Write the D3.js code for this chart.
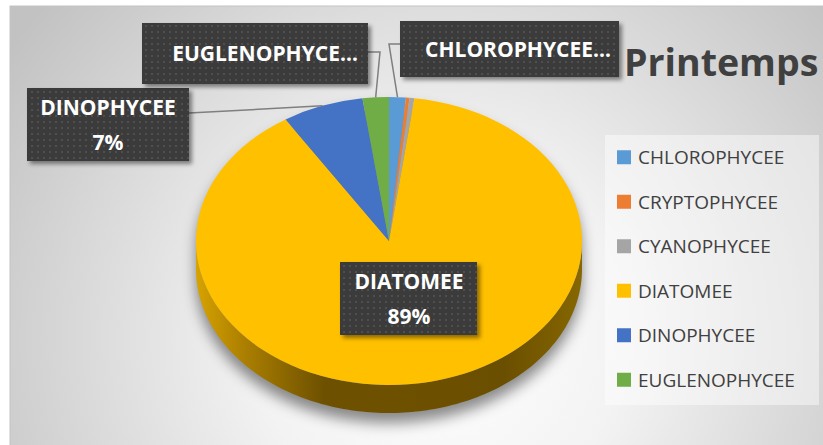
<!DOCTYPE html>
<html>
<head>
<meta charset="utf-8">
<script src="https://cdn.jsdelivr.net/npm/d3@7"></script>
<style>
  html, body { margin: 0; padding: 0; background: #ffffff; overflow: hidden; }
  svg { display: block; }
</style>
</head>
<body>
<svg id="chart" width="823" height="445"></svg>
<script>
// ---- data ----
const categories = ["CHLOROPHYCEE", "CRYPTOPHYCEE", "CYANOPHYCEE", "DIATOMEE", "DINOPHYCEE", "EUGLENOPHYCEE"];
const values = [1.4, 0.3, 0.4, 88.9, 6.8, 2.2];
const colors = ["#5b9bd5", "#ed7d31", "#a5a5a5", "#ffc000", "#4472c4", "#70ad47"];
const chartTitle = "Printemps";
// data label content: name line (possibly truncated) and whether the percentage is shown
const labelNames = ["CHLOROPHYCEE…", null, null, "DIATOMEE", "DINOPHYCEE", "EUGLENOPHYCE…"];
const labelShowPct = [false, false, false, true, true, false];

// ---- layout ----
const W = 823, H = 445;
const cx = 389, cy = 241, rx = 193, ry = 144, depth = 28;

// label boxes: position/size and leader elbow points
const labelLayout = {
  0: { x: 400, y: 21, w: 219, h: 56, tx: 518, leader: [[400, 44], [389, 44]] },
  3: { x: 340, y: 262, w: 137, h: 73, tx: 409, leader: null },
  4: { x: 27, y: 88, w: 162, h: 73, tx: 108, leader: [[189, 113]] },
  5: { x: 142, y: 23, w: 226, h: 61, tx: 265, leader: [[368, 52], [380, 52]] }
};

const svg = d3.select("#chart");
const defs = svg.append("defs");

// background radial gradient
const bg = defs.append("radialGradient").attr("id", "bgGrad")
  .attr("gradientUnits", "userSpaceOnUse")
  .attr("cx", 440).attr("cy", 340).attr("r", 520);
bg.append("stop").attr("offset", 0).attr("stop-color", "#ffffff");
bg.append("stop").attr("offset", 0.35).attr("stop-color", "#f3f3f3");
bg.append("stop").attr("offset", 1).attr("stop-color", "#c2c2c2");

// pie side shading
const sideGrad = defs.append("linearGradient").attr("id", "sideGrad")
  .attr("gradientUnits", "userSpaceOnUse")
  .attr("x1", cx - rx).attr("x2", cx + rx).attr("y1", 0).attr("y2", 0);
const sideStops = [[0, "#d6a300"], [0.12, "#ad8000"], [0.33, "#6e5100"], [0.8, "#6b4f00"], [1, "#866700"]];
sideStops.forEach(([o, c]) => sideGrad.append("stop").attr("offset", o).attr("stop-color", c));

// soft pie shadow
const blur = defs.append("filter").attr("id", "pieShadow")
  .attr("x", "-20%").attr("y", "-20%").attr("width", "140%").attr("height", "140%");
blur.append("feGaussianBlur").attr("stdDeviation", 7);

// label box pattern (dark with small dots) and drop shadow
const pat = defs.append("pattern").attr("id", "dots")
  .attr("patternUnits", "userSpaceOnUse").attr("width", 6).attr("height", 6);
pat.append("rect").attr("width", 6).attr("height", 6).attr("fill", "#3b3b3b");
pat.append("rect").attr("x", 1).attr("y", 1).attr("width", 2).attr("height", 2).attr("fill", "#4f4f4f");

const ds = defs.append("filter").attr("id", "boxShadow")
  .attr("x", "-10%").attr("y", "-10%").attr("width", "130%").attr("height", "140%");
ds.append("feDropShadow").attr("dx", 3).attr("dy", 3).attr("stdDeviation", 2)
  .attr("flood-color", "#000").attr("flood-opacity", 0.45);

// ---- chart area ----
svg.append("rect").attr("x", 10).attr("y", 6).attr("width", W).attr("height", H)
  .attr("fill", "url(#bgGrad)").attr("stroke", "#c4c4c4").attr("stroke-width", 1);

// ---- pie ----
const pie = d3.pie().sort(null).value(d => d).startAngle(0).endAngle(2 * Math.PI);
const arcs = pie(values);
const total = d3.sum(values);
const pct = d3.format(".0%");

// point on the top (z=0) or bottom (z=depth) rim at angle a (clockwise from 12 o'clock)
const rim = (a, z = 0) => [cx + rx * Math.sin(a), cy - ry * Math.cos(a) + z];
const line = d3.line();

// shadow shape: back rim of the top face + front rim of the bottom face
const shadowPts = d3.range(-90, 90.5, 2).map(d => rim(d * Math.PI / 180))
  .concat(d3.range(90, 270.5, 2).map(d => rim(d * Math.PI / 180, depth)));
svg.append("path").attr("d", line(shadowPts) + "Z")
  .attr("transform", "translate(0,10)")
  .attr("fill", "#000").attr("fill-opacity", 0.45)
  .attr("filter", "url(#pieShadow)");

// side walls (front half only)
const front0 = Math.PI / 2, front1 = 3 * Math.PI / 2;
const sideG = svg.append("g");
arcs.forEach((a, i) => {
  const s = Math.max(a.startAngle, front0), e = Math.min(a.endAngle, front1);
  if (e <= s) return;
  const n = Math.max(2, Math.ceil((e - s) / 0.02));
  const angs = d3.range(n + 1).map(k => s + (e - s) * k / n);
  const pts = angs.map(t => rim(t)).concat(angs.slice().reverse().map(t => rim(t, depth)));
  sideG.append("path").attr("d", line(pts) + "Z")
    .attr("fill", i === 3 ? "url(#sideGrad)" : d3.color(colors[i]).darker(1.2));
});

// top face: circular arcs squashed into an ellipse
const arcGen = d3.arc().innerRadius(0).outerRadius(rx);
svg.append("g")
  .attr("transform", `translate(${cx},${cy}) scale(1,${ry / rx})`)
  .selectAll("path").data(arcs).join("path")
  .attr("d", arcGen)
  .attr("fill", (d, i) => colors[i]);

// ---- leader lines ----
const leaderG = svg.append("g");
arcs.forEach((a, i) => {
  const L = labelLayout[i];
  if (!L || !L.leader) return;
  const mid = (a.startAngle + a.endAngle) / 2;
  const pts = L.leader.concat([rim(mid)]);
  leaderG.append("path").attr("d", line(pts))
    .attr("fill", "none").attr("stroke", "#7f7f7f").attr("stroke-width", 1.5);
});

// ---- data labels ----
const labG = svg.append("g");
arcs.forEach((a, i) => {
  const L = labelLayout[i];
  if (!L || !labelNames[i]) return;
  labG.append("rect").attr("x", L.x).attr("y", L.y).attr("width", L.w).attr("height", L.h)
    .attr("fill", "url(#dots)").attr("filter", "url(#boxShadow)");
  const lines = [labelNames[i]];
  if (labelShowPct[i]) lines.push(pct(a.value / total));
  const lh = 35;
  const c = L.y + L.h / 2;
  lines.forEach((t, k) => {
    labG.append("text")
      .attr("x", L.tx)
      .attr("y", c + (k - (lines.length - 1) / 2) * lh)
      .attr("dy", "0.36em")
      .attr("text-anchor", "middle")
      .attr("font-family", "'Open Sans', sans-serif")
      .attr("font-weight", 700)
      .attr("font-size", 21)
      .attr("fill", "#ffffff")
      .text(t);
  });
});

// ---- title ----
svg.append("text")
  .attr("x", 624).attr("y", 76)
  .attr("font-family", "'Open Sans', sans-serif")
  .attr("font-weight", 700)
  .attr("font-size", 37.5)
  .attr("fill", "#404040")
  .text(chartTitle);

// ---- legend ----
const legendY = d3.scaleBand().domain(categories).range([135, 402]);
svg.append("rect").attr("x", 605).attr("y", 135).attr("width", 214).attr("height", 270)
  .attr("fill", "#ffffff").attr("fill-opacity", 0.45);
const leg = svg.append("g").selectAll("g").data(categories).join("g")
  .attr("transform", d => `translate(617,${legendY(d) + legendY.bandwidth() / 2})`);
leg.append("rect").attr("x", 0).attr("y", -7).attr("width", 14).attr("height", 14)
  .attr("fill", (d, i) => colors[i]);
leg.append("text").attr("x", 21).attr("dy", "0.36em")
  .attr("font-family", "'Open Sans', sans-serif")
  .attr("font-size", 19)
  .attr("fill", "#404040")
  .text(d => d);
</script>
</body>
</html>
